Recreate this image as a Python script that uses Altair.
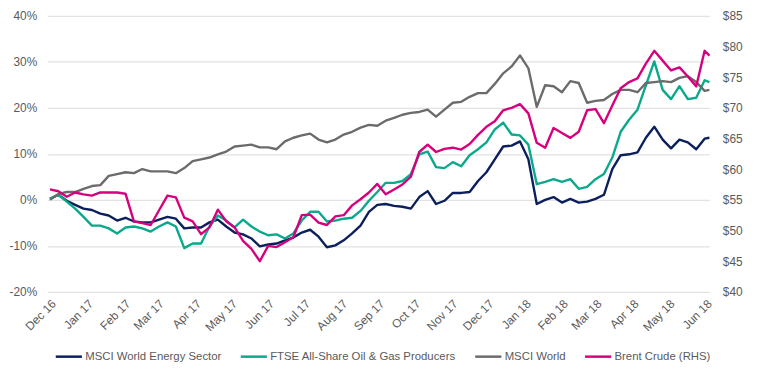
import altair as alt
import pandas as pd

# ---- data (weekly readings from the reference) ----
dates = [d.strftime("%Y-%m-%dT00:00:00") for d in pd.date_range("2016-12-01", periods=79, freq="7D")] + ["2018-06-04T00:00:00"]

energy = [0.2, 1.1, -0.2, -1.1, -1.9, -2.2, -3.0, -3.4, -4.5, -3.9,
          -4.7, -4.9, -4.9, -4.3, -3.7, -4.1, -6.2, -6.0, -6.0, -4.9,
          -4.3, -5.8, -7.1, -7.5, -8.4, -10.1, -9.7, -9.5, -8.8, -8.2,
          -7.1, -6.5, -8.0, -10.3, -9.9, -8.8, -7.3, -5.6, -2.6, -1.1,
          -0.9, -1.3, -1.5, -1.9, 0.6, 1.9, -0.9, -0.2, 1.5, 1.5,
          1.7, 4.1, 6.0, 8.8, 11.6, 11.8, 12.7, 8.8, -0.9, 0.0,
          0.6, -0.6, 0.2, -0.6, -0.4, 0.2, 1.1, 6.7, 9.7, 9.9,
          10.3, 13.5, 15.9, 13.1, 11.2, 13.1, 12.5, 11.0, 13.3, 13.5]

ftse = [0.2, 1.1, -0.4, -1.9, -3.7, -5.6, -5.6, -6.2, -7.3, -6.0,
        -5.8, -6.2, -6.9, -5.8, -4.9, -5.8, -10.5, -9.5, -9.5, -5.8,
        -3.4, -4.5, -6.0, -4.3, -5.8, -6.9, -7.7, -7.5, -8.4, -7.3,
        -4.5, -2.6, -2.6, -4.7, -4.5, -4.1, -3.9, -2.4, -0.2, 1.7,
        3.7, 3.7, 4.1, 5.6, 9.9, 10.5, 7.1, 6.9, 8.2, 7.3,
        9.7, 11.0, 12.5, 15.3, 16.8, 14.2, 14.0, 12.0, 3.4, 3.9,
        4.5, 3.9, 4.5, 2.4, 2.8, 4.5, 5.6, 9.2, 14.8, 17.4,
        19.6, 24.9, 30.1, 23.9, 21.9, 24.7, 21.9, 22.2, 26.0, 25.6]

world = [0.0, 1.3, 1.7, 1.7, 2.4, 3.0, 3.2, 5.2, 5.6, 6.0,
         5.8, 6.7, 6.2, 6.2, 6.2, 5.8, 6.9, 8.4, 8.8, 9.2,
         9.9, 10.5, 11.6, 11.8, 12.0, 11.4, 11.4, 11.0, 12.7, 13.5,
         14.0, 14.4, 13.1, 12.5, 13.1, 14.2, 14.8, 15.7, 16.3, 16.1,
         17.2, 17.8, 18.5, 18.9, 19.1, 19.6, 18.1, 19.6, 21.1, 21.3,
         22.4, 23.2, 23.2, 25.2, 27.5, 29.0, 31.4, 28.6, 20.2, 24.9,
         24.7, 23.4, 25.8, 25.4, 21.1, 21.5, 21.7, 23.0, 23.9, 23.9,
         23.4, 25.4, 25.6, 25.8, 25.6, 26.5, 26.9, 25.6, 23.7, 23.9]

brent = [56.7, 56.4, 55.5, 56.2, 55.9, 55.7, 56.2, 56.2, 56.2, 56.0,
         51.5, 51.2, 50.9, 53.3, 55.7, 55.4, 52.1, 51.5, 49.4, 50.5,
         53.4, 51.5, 50.5, 48.3, 47.0, 45.0, 47.5, 47.3, 48.1, 48.9,
         52.5, 52.6, 51.3, 50.9, 52.3, 52.5, 54.1, 55.1, 56.2, 57.6,
         55.9, 56.7, 57.5, 58.8, 62.8, 64.0, 62.8, 63.3, 63.5, 63.2,
         64.1, 65.6, 66.9, 67.8, 69.6, 70.0, 70.6, 69.1, 64.3, 63.5,
         66.7, 65.9, 65.1, 66.1, 69.6, 69.8, 67.5, 70.4, 73.2, 74.2,
         74.8, 77.2, 79.3, 77.7, 76.1, 76.6, 75.1, 73.5, 79.3, 78.5]

series_names = ["MSCI World Energy Sector", "FTSE All-Share Oil & Gas Producers",
                "MSCI World", "Brent Crude (RHS)"]
series_colors = ["#0b1f5c", "#0aa98b", "#6b6b6b", "#d6007f"]

pct_ticks = [-20, -10, 0, 10, 20, 30, 40]
usd_ticks = [40, 45, 50, 55, 60, 65, 70, 75, 80, 85]
month_ticks = [(2016, 12)] + [(2017, m) for m in range(1, 13)] + [(2018, m) for m in range(1, 7)]

# ---- tables ----
left_rows = []
for name, vals in zip(series_names[:3], [energy, ftse, world]):
    for d, v in zip(dates, vals):
        left_rows.append({"date": d, "value": v, "series": name})
df_left = pd.DataFrame(left_rows)
df_right = pd.DataFrame({"date": dates, "value": brent, "series": series_names[3]})

FONT = "Liberation Sans"
TXT = "#5a5a5a"

color = alt.Color(
    "series:N",
    scale=alt.Scale(domain=series_names, range=series_colors),
    legend=alt.Legend(
        title=None, orient="none", direction="horizontal", legendX=7, legendY=330,
        symbolType="stroke", symbolSize=700, symbolStrokeWidth=2.5,
        labelFont=FONT, labelFontSize=11.5, labelColor=TXT, labelOffset=2,
        columnPadding=14, padding=0, labelLimit=300,
    ),
)

x = alt.X(
    "date:T",
    title=None,
    scale=alt.Scale(domain=[alt.DateTime(year=2016, month=11, date=29),
                            alt.DateTime(year=2018, month=6, date=4)]),
    axis=alt.Axis(
        values=[alt.DateTime(year=y, month=m, date=1) for y, m in month_ticks],
        format="%b %y", labelAngle=-45, labelAlign="right", labelBaseline="top",
        labelPadding=6, ticks=False, domain=False, grid=False,
        labelFont=FONT, labelFontSize=12, labelColor=TXT, labelOverlap=False,
    ),
)

left = alt.Chart(df_left).mark_line(strokeWidth=2.4, strokeJoin="round").encode(
    x=x,
    y=alt.Y("value:Q", title=None,
            scale=alt.Scale(domain=[-20, 40], nice=False, zero=False),
            axis=alt.Axis(values=pct_ticks, labelExpr="datum.value + '%'",
                          grid=True, gridColor="#e2e2e2", gridWidth=1.2,
                          ticks=False, domain=False, labelPadding=11,
                          labelFont=FONT, labelFontSize=12, labelColor=TXT)),
    color=color,
)

right = alt.Chart(df_right).mark_line(strokeWidth=2.4, strokeJoin="round").encode(
    x=x,
    y=alt.Y("value:Q", title=None,
            scale=alt.Scale(domain=[40, 85], nice=False, zero=False),
            axis=alt.Axis(orient="right", values=usd_ticks, labelExpr="'$' + datum.value",
                          grid=False, ticks=False, domain=False, labelPadding=13,
                          labelFont=FONT, labelFontSize=12, labelColor=TXT)),
    color=color,
)

chart = alt.layer(left, right).resolve_scale(y="independent").properties(
    width=669, height=279,
    autosize=alt.AutoSizeParams(type="none"),
    padding={"left": 40, "top": 6, "right": 40, "bottom": 70},
).configure_view(stroke=None)

chart.save("out.html", embed_options={"renderer": "svg", "actions": False})
